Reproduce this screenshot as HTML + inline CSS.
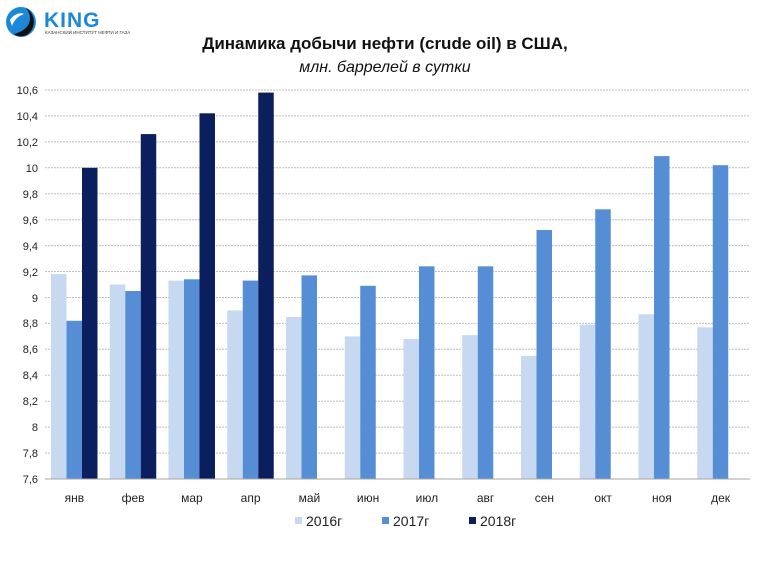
<!DOCTYPE html>
<html><head><meta charset="utf-8"><style>
body{margin:0;background:#fff;width:765px;height:574px;overflow:hidden}
svg{display:block;font-family:"Liberation Sans","DejaVu Sans",sans-serif}
</style></head><body>
<svg width="765" height="574" viewBox="0 0 765 574" xmlns="http://www.w3.org/2000/svg">
<rect width="765" height="574" fill="#fff"/>
<!-- logo -->
<circle cx="21" cy="22" r="15" fill="#1e88d8"/>
<path d="M14 34 C30 30 34 18 26 8 C34 12 38 26 28 34 C24 37 18 37 14 34Z" fill="#111"/>
<path d="M10 20 C14 14 20 12 24 14 C18 16 14 20 12 26Z" fill="#fff"/>
<text x="44" y="27" font-size="21" font-weight="bold" fill="#1e88d8" letter-spacing="1">KING</text>
<text x="45" y="34" font-size="4.5" fill="#333">КАЗАНСКИЙ ИНСТИТУТ НЕФТИ И ГАЗА</text>
<!-- title -->
<text x="385" y="49" font-size="17" font-weight="bold" text-anchor="middle" fill="#111">Динамика добычи нефти (crude oil) в США,</text>
<text x="385" y="72" font-size="16" font-style="italic" text-anchor="middle" fill="#111">млн. баррелей в сутки</text>
<!-- grid -->
<g stroke="#bfbfbf" stroke-width="1" stroke-dasharray="2,1">
<line x1="45" x2="750" y1="90" y2="90"/><line x1="45" x2="750" y1="115.9" y2="115.9"/><line x1="45" x2="750" y1="141.9" y2="141.9"/><line x1="45" x2="750" y1="167.8" y2="167.8"/><line x1="45" x2="750" y1="193.7" y2="193.7"/><line x1="45" x2="750" y1="219.7" y2="219.7"/><line x1="45" x2="750" y1="245.6" y2="245.6"/><line x1="45" x2="750" y1="271.5" y2="271.5"/><line x1="45" x2="750" y1="297.5" y2="297.5"/><line x1="45" x2="750" y1="323.4" y2="323.4"/><line x1="45" x2="750" y1="349.3" y2="349.3"/><line x1="45" x2="750" y1="375.3" y2="375.3"/><line x1="45" x2="750" y1="401.2" y2="401.2"/><line x1="45" x2="750" y1="427.1" y2="427.1"/><line x1="45" x2="750" y1="453.1" y2="453.1"/>
</g>
<g font-size="11" fill="#222" text-anchor="end">
<text x="38" y="94">10,6</text><text x="38" y="120">10,4</text><text x="38" y="146">10,2</text><text x="38" y="172">10</text><text x="38" y="198">9,8</text><text x="38" y="224">9,6</text><text x="38" y="250">9,4</text><text x="38" y="276">9,2</text><text x="38" y="302">9</text><text x="38" y="327">8,8</text><text x="38" y="353">8,6</text><text x="38" y="379">8,4</text><text x="38" y="405">8,2</text><text x="38" y="431">8</text><text x="38" y="457">7,8</text><text x="38" y="483">7,6</text>
</g>
<!-- 2016 -->
<g fill="#c6d9f1">
<rect x="51" y="274.1" width="15.5" height="204.9"/>
<rect x="109.75" y="284.5" width="15.5" height="194.5"/>
<rect x="168.5" y="280.6" width="15.5" height="198.4"/>
<rect x="227.25" y="310.4" width="15.5" height="168.6"/>
<rect x="286" y="316.9" width="15.5" height="162.1"/>
<rect x="344.75" y="336.4" width="15.5" height="142.6"/>
<rect x="403.5" y="339" width="15.5" height="140"/>
<rect x="462.25" y="335.1" width="15.5" height="143.9"/>
<rect x="521" y="355.8" width="15.5" height="123.2"/>
<rect x="579.75" y="324.7" width="15.5" height="154.3"/>
<rect x="638.5" y="314.3" width="15.5" height="164.7"/>
<rect x="697.25" y="327.3" width="15.5" height="151.7"/>
</g>
<!-- 2017 -->
<g fill="#558ed5">
<rect x="66.5" y="320.8" width="15.5" height="158.2"/>
<rect x="125.25" y="291" width="15.5" height="188"/>
<rect x="184" y="279.3" width="15.5" height="199.7"/>
<rect x="242.75" y="280.6" width="15.5" height="198.4"/>
<rect x="301.5" y="275.4" width="15.5" height="203.6"/>
<rect x="360.25" y="285.8" width="15.5" height="193.2"/>
<rect x="419" y="266.3" width="15.5" height="212.7"/>
<rect x="477.75" y="266.3" width="15.5" height="212.7"/>
<rect x="536.5" y="230" width="15.5" height="249"/>
<rect x="595.25" y="209.3" width="15.5" height="269.7"/>
<rect x="654" y="156.1" width="15.5" height="322.9"/>
<rect x="712.75" y="165.2" width="15.5" height="313.8"/>
</g>
<!-- 2018 -->
<g fill="#0b1f5e">
<rect x="82" y="167.8" width="15.5" height="311.2"/>
<rect x="140.75" y="134.1" width="15.5" height="344.9"/>
<rect x="199.5" y="113.3" width="15.5" height="365.7"/>
<rect x="258.25" y="92.6" width="15.5" height="386.4"/>
</g>
<line x1="45" x2="750" y1="479" y2="479" stroke="#a6a6a6" stroke-width="1"/>
<g font-size="12" fill="#222" text-anchor="middle">
<text x="74.4" y="502">янв</text><text x="133.1" y="502">фев</text><text x="191.9" y="502">мар</text><text x="250.6" y="502">апр</text><text x="309.4" y="502">май</text><text x="368.1" y="502">июн</text><text x="426.9" y="502">июл</text><text x="485.6" y="502">авг</text><text x="544.4" y="502">сен</text><text x="603.1" y="502">окт</text><text x="661.9" y="502">ноя</text><text x="720.6" y="502">дек</text>
</g>
<!-- legend -->
<rect x="295" y="517" width="7" height="7" fill="#c6d9f1"/>
<text x="306" y="526" font-size="14" fill="#222">2016г</text>
<rect x="382" y="517" width="7" height="7" fill="#558ed5"/>
<text x="393" y="526" font-size="14" fill="#222">2017г</text>
<rect x="469" y="517" width="7" height="7" fill="#0b1f5e"/>
<text x="480" y="526" font-size="14" fill="#222">2018г</text>
</svg>
</body></html>
